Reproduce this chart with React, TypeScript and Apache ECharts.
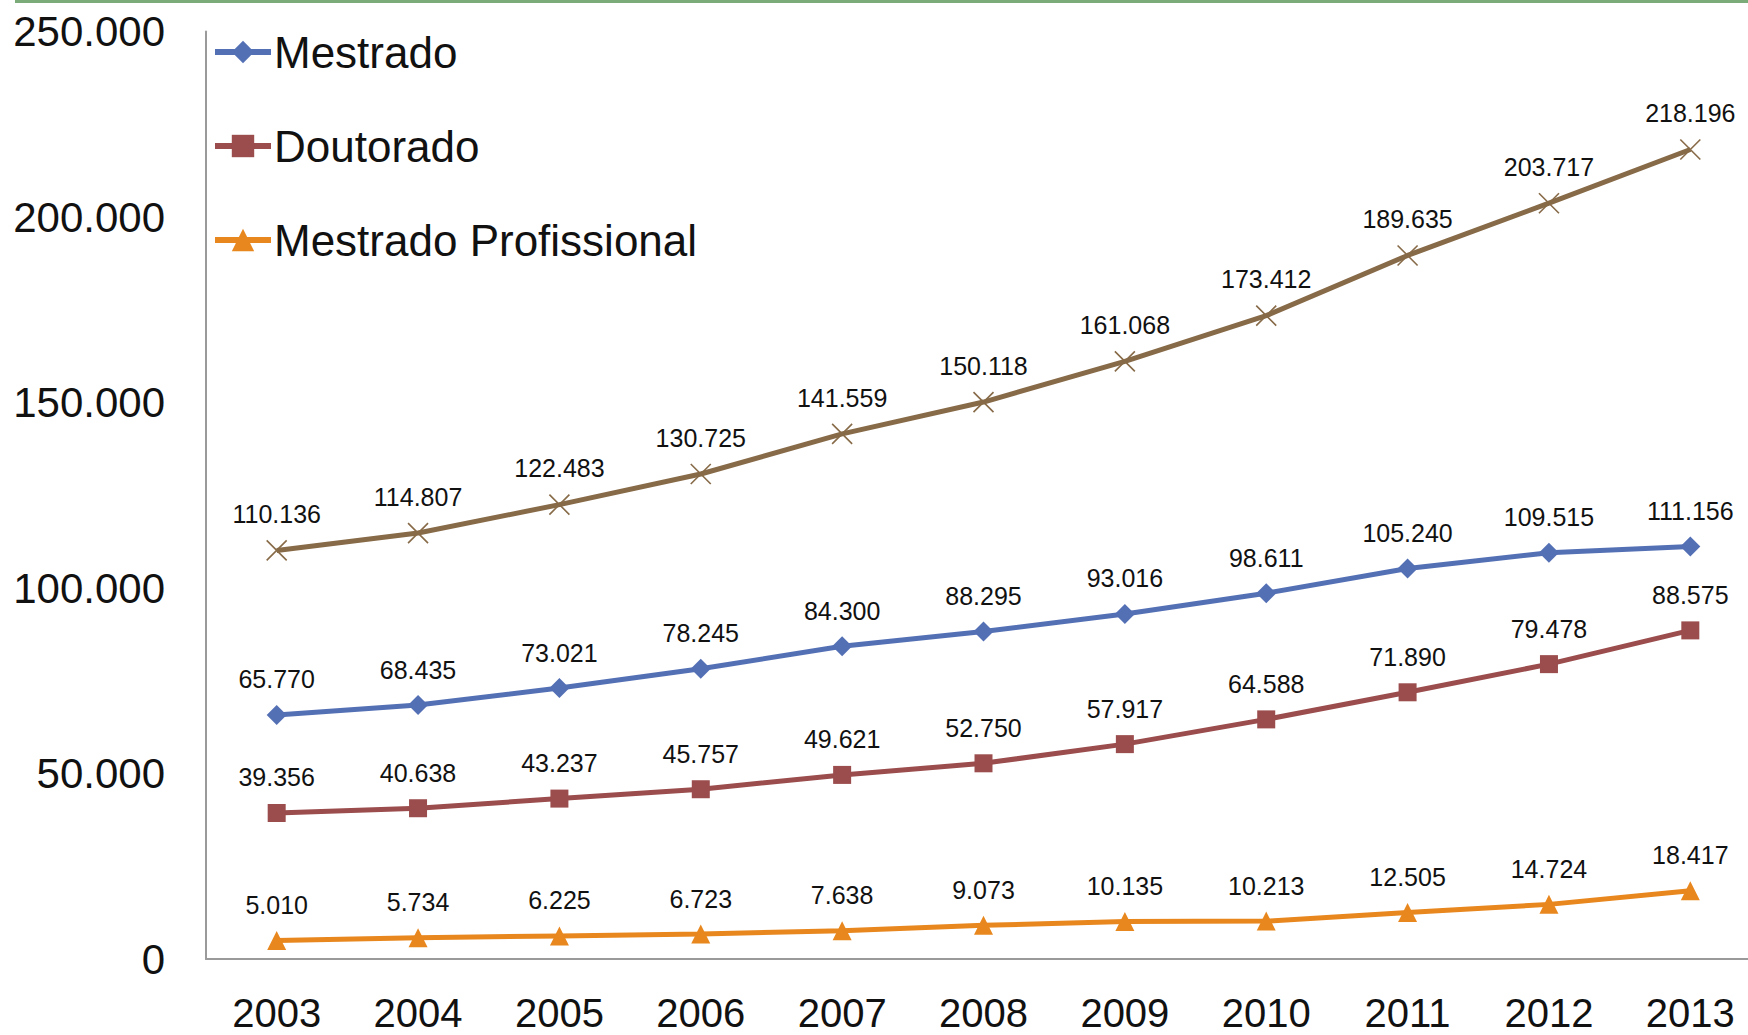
import React, { useEffect, useRef } from "react";
import * as echarts from "echarts";

const years = ["2003", "2004", "2005", "2006", "2007", "2008", "2009", "2010", "2011", "2012", "2013"];
const mestrado = [65770, 68435, 73021, 78245, 84300, 88295, 93016, 98611, 105240, 109515, 111156];
const doutorado = [39356, 40638, 43237, 45757, 49621, 52750, 57917, 64588, 71890, 79478, 88575];
const profissional = [5010, 5734, 6225, 6723, 7638, 9073, 10135, 10213, 12505, 14724, 18417];
const total = [110136, 114807, 122483, 130725, 141559, 150118, 161068, 173412, 189635, 203717, 218196];
const yTicks = [0, 50000, 100000, 150000, 200000, 250000];

const FONT = "Liberation Sans";

function fmt(v: number): string {
  return String(Math.round(v)).replace(/\B(?=(\d{3})+(?!\d))/g, ".");
}

function makeSeries(name: string, data: number[], color: string, symbol: string, size: number, extraItem: any = {}) {
  return {
    name,
    type: "line",
    data,
    symbol,
    symbolSize: size,
    showAllSymbol: true,
    lineStyle: { color, width: 5 },
    itemStyle: { color, ...extraItem },
    label: {
      show: true,
      position: "top",
      distance: 36 - 13 - size / 2,
      formatter: (p: any) => fmt(p.value),
      fontFamily: FONT,
      fontSize: 25,
      color: "#111",
    },
    emphasis: { disabled: true },
    z: 3,
  };
}

export default function App() {
  const ref = useRef<HTMLDivElement>(null);
  useEffect(() => {
    if (!ref.current) return;
    const chart = echarts.init(ref.current, null, { renderer: "svg" });
    const option: any = {
      animation: false,
      backgroundColor: "#ffffff",
      textStyle: { fontFamily: FONT },
      graphic: [
        {
          type: "rect",
          shape: { x: 15, y: 0, width: 1733, height: 3 },
          style: { fill: "#7aab78" },
          silent: true,
        },
      ],
      grid: {
        left: 206,
        right: -13,
        top: 31.5,
        bottom: 76,
        containLabel: false,
        outerBoundsMode: "none",
      },
      legend: {
        data: ["Mestrado", "Doutorado", "Mestrado Profissional"],
        orient: "vertical",
        left: 212,
        top: 27,
        padding: 0,
        itemWidth: 56,
        itemHeight: 28,
        itemGap: 44,
        lineStyle: { width: 6 },
        textStyle: { fontFamily: FONT, fontSize: 44, color: "#111", lineHeight: 50, padding: [0, 0, 0, -2] },
      },
      xAxis: {
        type: "category",
        data: years,
        boundaryGap: true,
        axisLine: { show: true, lineStyle: { color: "#9a9a9a", width: 2 } },
        axisTick: { show: false },
        axisLabel: { fontFamily: FONT, fontSize: 40, lineHeight: 40, color: "#111", margin: 34 },
        splitLine: { show: false },
      },
      yAxis: {
        type: "value",
        min: yTicks[0],
        max: yTicks[yTicks.length - 1],
        interval: 50000,
        axisLine: { show: true, lineStyle: { color: "#9a9a9a", width: 2 } },
        axisTick: { show: false },
        axisLabel: {
          fontFamily: FONT,
          fontSize: 42,
          color: "#111",
          margin: 41,
          formatter: (v: number) => fmt(v),
        },
        splitLine: { show: false },
      },
      series: [
        makeSeries("Mestrado", mestrado, "#5470b5", "diamond", 20),
        makeSeries("Doutorado", doutorado, "#9b4c4c", "rect", 18),
        makeSeries("Mestrado Profissional", profissional, "#e8871e", "triangle", 19),
        makeSeries("Total", total, "#876a47", "path://M0,0L10,10M10,0L0,10", 20, {
          borderColor: "#876a47",
          borderWidth: 1.6,
        }),
      ],
    };
    chart.setOption(option);
    return () => chart.dispose();
  }, []);
  return (
    <div
      ref={ref}
      style={{ position: "fixed", left: 0, top: 0, width: 1748, height: 1035, background: "#fff" }}
    />
  );
}
